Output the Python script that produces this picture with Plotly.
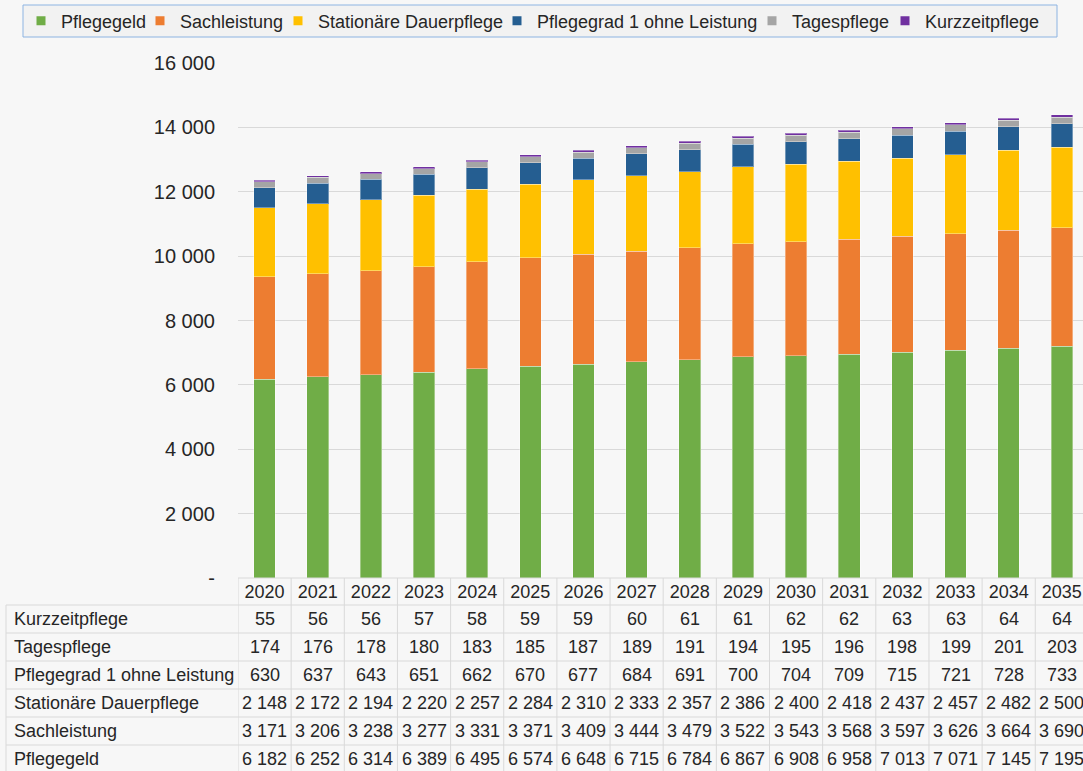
import plotly.graph_objects as go

# Projection of care recipients by benefit type, 2020-2035
years = [str(y) for y in range(2020, 2036)]

pflegegeld = [6182, 6252, 6314, 6389, 6495, 6574, 6648, 6715, 6784, 6867, 6908, 6958, 7013, 7071, 7145, 7195]
sachleistung = [3171, 3206, 3238, 3277, 3331, 3371, 3409, 3444, 3479, 3522, 3543, 3568, 3597, 3626, 3664, 3690]
stationaer = [2148, 2172, 2194, 2220, 2257, 2284, 2310, 2333, 2357, 2386, 2400, 2418, 2437, 2457, 2482, 2500]
pflegegrad1 = [630, 637, 643, 651, 662, 670, 677, 684, 691, 700, 704, 709, 715, 721, 728, 733]
tagespflege = [174, 176, 178, 180, 183, 185, 187, 189, 191, 194, 195, 196, 198, 199, 201, 203]
kurzzeitpflege = [55, 56, 56, 57, 58, 59, 59, 60, 61, 61, 62, 62, 63, 63, 64, 64]

y_ticks = [0, 2000, 4000, 6000, 8000, 10000, 12000, 14000, 16000]

# stacking order, bottom to top
series = [
    ("Pflegegeld", pflegegeld, "#70ad47"),
    ("Sachleistung", sachleistung, "#ed7d31"),
    ("Stationäre Dauerpflege", stationaer, "#ffc000"),
    ("Pflegegrad 1 ohne Leistung", pflegegrad1, "#255e91"),
    ("Tagespflege", tagespflege, "#a5a5a5"),
    ("Kurzzeitpflege", kurzzeitpflege, "#7030a0"),
]
# left edge (px) of each legend entry's text
legend_text_x = [61, 180, 318, 537, 792, 925]

W, H = 1083, 771
FONT = "Liberation Sans, Arial, sans-serif"
TXT = "#262626"
GRID = "#d9d9d9"
BG = "#f7f7f7"


def fmt(v):
    return f"{v:,}".replace(",", " ")


def py(px):
    """pixel row -> paper y"""
    return 1 - px / H


def px_x(px):
    return px / W


fig = go.Figure()

for name, vals, color in series:
    fig.add_trace(go.Bar(
        x=years, y=vals, name=name, showlegend=False,
        marker=dict(color=color, line=dict(color="rgba(255,255,255,0.35)", width=1)),
    ))

# one legend per entry so each key sits at its own position
legend_layouts = {}
for k, (name, vals, color) in enumerate(series):
    lid = "legend" if k == 0 else f"legend{k + 1}"
    fig.add_trace(go.Scatter(
        x=[None], y=[None], mode="markers", name=name, legend=lid,
        marker=dict(symbol="square", size=9, color=color),
    ))
    legend_layouts[lid] = dict(
        orientation="h", x=px_x(legend_text_x[k] - 40), xanchor="left",
        y=py(21), yanchor="middle", bgcolor="rgba(0,0,0,0)", borderwidth=0,
        itemwidth=30, font=dict(size=18, color=TXT, family=FONT),
    )

# plot area geometry
plot_left, plot_top, plot_bottom = 238, 63, 578
col_w = 53.15
x_hi = -0.5 + (W - plot_left) / col_w

shapes = []
annotations = []

# legend frame
shapes.append(dict(type="rect", xref="paper", yref="paper",
                   x0=px_x(23), x1=px_x(1057), y0=py(37), y1=py(5),
                   fillcolor="#f2f2f2", line=dict(color="#8db4e2", width=1), layer="below"))

# data table below the chart
table_rows = [
    ("Kurzzeitpflege", kurzzeitpflege),
    ("Tagespflege", tagespflege),
    ("Pflegegrad 1 ohne Leistung", pflegegrad1),
    ("Stationäre Dauerpflege", stationaer),
    ("Sachleistung", sachleistung),
    ("Pflegegeld", pflegegeld),
]
row_top0 = 605
row_h = 28
table_bottom = row_top0 + row_h * len(table_rows)

# header row top line (years only)
shapes.append(dict(type="line", xref="x", yref="paper", x0=-0.5, x1=len(years) - 0.5,
                   y0=py(plot_bottom), y1=py(plot_bottom), line=dict(color=GRID, width=1)))
# row separators
for r in range(len(table_rows) + 1):
    yy = row_top0 + r * row_h
    shapes.append(dict(type="line", xref="paper", yref="paper", x0=px_x(6), x1=1,
                       y0=py(yy), y1=py(yy), line=dict(color=GRID, width=1)))
# left border of label column
shapes.append(dict(type="line", xref="paper", yref="paper", x0=px_x(6), x1=px_x(6),
                   y0=py(row_top0), y1=py(table_bottom), line=dict(color=GRID, width=1)))
# column separators
for i in range(len(years) + 1):
    shapes.append(dict(type="line", xref="x", yref="paper", x0=i - 0.5, x1=i - 0.5,
                       y0=py(plot_bottom), y1=py(table_bottom), line=dict(color=GRID, width=1)))

for r, (label, vals) in enumerate(table_rows):
    yc = py(row_top0 + r * row_h + row_h / 2)
    annotations.append(dict(text=label, xref="paper", yref="paper", x=px_x(12), y=yc,
                            xanchor="left", yanchor="middle", showarrow=False,
                            font=dict(size=18, color=TXT, family=FONT)))
    for i, v in enumerate(vals):
        annotations.append(dict(text=fmt(v), xref="x", yref="paper", x=i, y=yc,
                                xanchor="center", yanchor="middle", showarrow=False,
                                font=dict(size=18, color=TXT, family=FONT)))

fig.update_layout(
    width=W, height=H,
    margin=dict(l=0, r=0, t=0, b=0, autoexpand=False),
    paper_bgcolor=BG, plot_bgcolor=BG,
    barmode="stack", bargap=0.593,
    font=dict(family=FONT, color=TXT, size=18),
    showlegend=True,
    xaxis=dict(domain=[px_x(plot_left), 1], range=[-0.5, x_hi], type="category",
               showgrid=False, showline=False, zeroline=False, automargin=False,
               ticks="outside", ticklen=0, tickcolor=BG, ticklabelstandoff=-3,
               tickfont=dict(size=18, color=TXT, family=FONT)),
    yaxis=dict(domain=[py(plot_bottom), py(plot_top)], range=[0, 16000],
               tickvals=y_ticks, ticktext=["-" if v == 0 else fmt(v) for v in y_ticks],
               showgrid=True, gridcolor=GRID, gridwidth=1, zeroline=False, showline=False,
               automargin=False,
               ticks="outside", ticklen=0, tickcolor=BG, ticklabelstandoff=18,
               tickfont=dict(size=20, color=TXT, family=FONT)),
    shapes=shapes,
    annotations=annotations,
    **legend_layouts,
)

fig.write_html("out.html")
